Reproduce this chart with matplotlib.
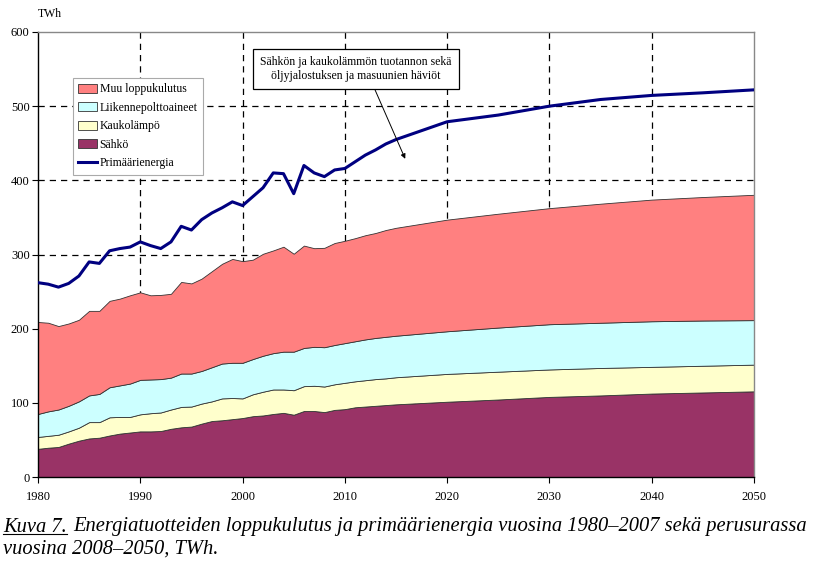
import numpy as np
import matplotlib.pyplot as plt
from matplotlib.lines import Line2D
from matplotlib.patches import Patch

# vuodet: 1980-2015 vuosittain, sen jälkeen 5 vuoden välein
years = list(range(1980, 2016)) + [2020, 2025, 2030, 2035, 2040, 2045, 2050]

sahko = [38, 39.5, 40.5, 45, 49, 52, 53, 56, 58.5, 60,
         61.5, 61.5, 62, 65, 67, 68, 72, 75.5, 76.5, 78,
         79.5, 82, 83, 85, 86.5, 84, 89, 89, 87.5, 90.5,
         91.5, 94, 95, 96, 97, 98,
         101.5, 104.5, 108, 110, 112.5, 114, 115.5]
kaukolampo = [16, 16, 16.5, 16.5, 17.5, 22, 21, 24.5, 22.5, 21,
              23, 24.5, 25, 26, 27.5, 27, 27, 26.5, 29.5, 28.5,
              26.5, 29.5, 32, 33, 31.5, 33, 33.5, 34, 34.5, 34.5,
              35.5, 35, 35.5, 36, 36, 36.5,
              37.5, 37.5, 37, 37, 36, 36, 36]
liikenne = [31, 33, 34, 34.5, 35.5, 36, 38, 40.5, 42.5, 45,
            46.5, 45.5, 45, 43, 45, 44.5, 44, 46, 47, 47.5,
            48, 47.5, 48.5, 49, 51, 52, 51.5, 52.5, 53, 53,
            53.5, 54, 55, 55.5, 56, 56,
            57.5, 59.5, 61, 61, 61.5, 61, 60]
muu = [124, 119.5, 112.5, 111, 110, 114, 112, 116.5, 117, 119,
       118, 113.5, 113.5, 113, 123.5, 121.5, 124.5, 129.5, 134.5, 140,
       137, 134, 137.5, 138.5, 141.5, 132, 138, 133, 134, 137.5,
       138, 139, 140.5, 141.5, 144, 145.5,
       150.5, 153.5, 156.5, 160.5, 164, 166.5, 169]
primaari = [262, 260, 256, 261, 271, 290, 288, 305, 308, 310,
            317, 312, 308, 317, 338, 333, 347, 356, 363, 371,
            366, 378, 390, 410, 409, 382, 420, 410, 405, 414,
            416, 425, 434, 441, 449, 455,
            479, 488, 500, 509, 514.5, 518, 522]

labels = ["Sähkö", "Kaukolämpö", "Liikennepolttoaineet", "Muu loppukulutus"]
colors = ["#993366", "#FFFFCC", "#CCFFFF", "#FF8080"]

serif = "Liberation Serif"

fig = plt.figure(figsize=(8.22, 5.62), dpi=100)
ax = fig.add_axes([38 / 822, 1 - 477 / 562, 716 / 822, 445 / 562])

# katkoviivaruudukko alueiden alle
for gx in range(1990, 2050, 10):
    ax.axvline(gx, color="black", lw=0.9, ls=(0, (5, 4)), zorder=0)
for gy in range(100, 600, 100):
    ax.axhline(gy, color="black", lw=0.9, ls=(0, (5, 4)), zorder=0)

ax.stackplot(years, sahko, kaukolampo, liikenne, muu, colors=colors,
             edgecolor="#333333", linewidth=0.6, zorder=1)
ax.plot(years, primaari, color="#000080", lw=2.2, zorder=3)

ax.set_xlim(1980, 2050)
ax.set_ylim(0, 600)
ax.set_xticks(range(1980, 2051, 10))
ax.set_yticks(range(0, 601, 100))
ax.tick_params(direction="out", length=4, width=0.8, labelsize=9)
for lab in ax.get_xticklabels() + ax.get_yticklabels():
    lab.set_fontfamily(serif)
ax.tick_params(axis="x", pad=6)
ax.tick_params(axis="y", pad=2)
for s in ["top", "right"]:
    ax.spines[s].set_color("#888888")
    ax.spines[s].set_linewidth(1.0)
for s in ["left", "bottom"]:
    ax.spines[s].set_linewidth(1.0)

fig.text(38 / 822, 1 - 14 / 562, "TWh", family=serif, fontsize=8.5, va="center")

handles = [Patch(facecolor=colors[3], edgecolor="#333333", lw=0.6),
           Patch(facecolor=colors[2], edgecolor="#333333", lw=0.6),
           Patch(facecolor=colors[1], edgecolor="#333333", lw=0.6),
           Patch(facecolor=colors[0], edgecolor="#333333", lw=0.6),
           Line2D([], [], color="#000080", lw=2.2)]
leg = ax.legend(handles, [labels[3], labels[2], labels[1], labels[0], "Primäärienergia"],
                loc="upper left", bbox_to_anchor=(35 / 716, 1 - 46 / 445),
                prop={"family": serif, "size": 8.5}, fancybox=False,
                framealpha=1, edgecolor="#aaaaaa", handlelength=1.6,
                handleheight=0.8, handletextpad=0.2, labelspacing=0.55,
                borderpad=0.45, borderaxespad=0)
leg.get_frame().set_linewidth(0.8)

ax.annotate("Sähkön ja kaukolämmön tuotannon sekä\nöljyjalostuksen ja masuunien häviöt",
            xy=(2015.9, 429), xytext=(2011.1, 550.5), ha="center", va="center",
            family=serif, fontsize=8.5, zorder=5,
            bbox=dict(boxstyle="square,pad=0.6", fc="white", ec="black", lw=0.9),
            arrowprops=dict(arrowstyle="-|>", color="black", lw=0.7,
                            mutation_scale=7, shrinkA=0, shrinkB=0,
                            relpos=(0.58, 0)))

# kuvateksti
cap_size = 14.8
t1 = fig.text(3 / 822, 1 - 527 / 562, "Kuva 7.", family=serif, style="italic",
              fontsize=cap_size, va="center")
fig.canvas.draw()
bb = t1.get_window_extent().transformed(fig.transFigure.inverted())
fig.add_artist(Line2D([bb.x0, bb.x1], [bb.y0 + 0.004, bb.y0 + 0.004],
                      transform=fig.transFigure, color="black", lw=0.8))
fig.text(bb.x1 + 6 / 822, 1 - 527 / 562,
         "Energiatuotteiden loppukulutus ja primäärienergia vuosina 1980–2007 sekä perusurassa",
         family=serif, style="italic", fontsize=cap_size, va="center")
fig.text(3 / 822, 1 - 549 / 562, "vuosina 2008–2050, TWh.", family=serif,
         style="italic", fontsize=cap_size, va="center")

fig.savefig("out.png", dpi=100)
